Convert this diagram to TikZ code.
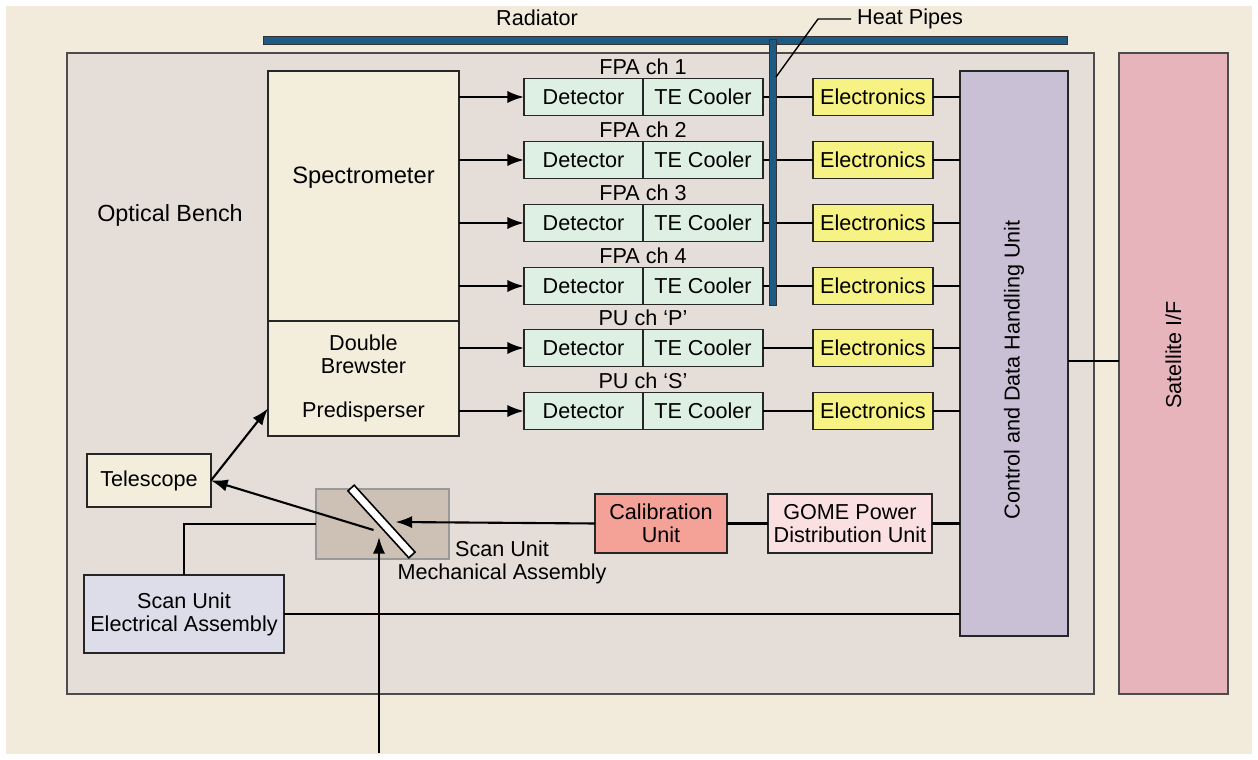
\documentclass[tikz,border=0pt]{standalone}
\usepackage{fontspec}
\setmainfont{Liberation Sans}
\usepackage{xcolor}
\usepackage{tikz}
\usetikzlibrary{positioning, arrows.meta, calc}
\definecolor{pagecream}{HTML}{F2EBDC}
\definecolor{benchgrey}{HTML}{E5DED8}
\definecolor{boxcream}{HTML}{F3EDDC}
\definecolor{detmint}{HTML}{DDF0E3}
\definecolor{eleyellow}{HTML}{F6F283}
\definecolor{cdhulilac}{HTML}{C9C0D6}
\definecolor{satpink}{HTML}{E8B4BC}
\definecolor{calsalmon}{HTML}{F4A197}
\definecolor{gomepink}{HTML}{FBE0E2}
\definecolor{sueablue}{HTML}{DDDCE9}
\definecolor{mechtan}{HTML}{CDC1B5}
\definecolor{radblue}{HTML}{1E5B84}
\tikzset{
  unit/.style={draw=black!85, line width=1.1pt, outer sep=0pt, inner sep=1pt, align=center},
  pipebar/.style={draw=black!80, fill=radblue, line width=0.4pt, inner sep=0pt, outer sep=0pt},
  wire/.style={line width=1.2pt, draw=black},
  beam/.style={wire, -{Latex[length=9.5pt, width=7pt]}},
}

\begin{document}
\begin{tikzpicture}[x=0.02cm, y=-0.02cm, font=\fontsize{12.3}{13}\selectfont]
    \fill[white] (0,0) rectangle (1258,760);
    \useasboundingbox (0,0) rectangle (1258,760);
    \fill[pagecream] (6,6) rectangle (1252,754);
    % bench and satellite side
    \node[unit, fill=benchgrey, draw=black!70, line width=1.4pt, anchor=north west,
          minimum width=20.54cm, minimum height=12.82cm] (bench) at (67,53) {};
    \node at (170,215) {\fontsize{13.3}{15}\selectfont Optical Bench};
    \node[unit, fill=satpink, draw=black!70, line width=1.4pt, anchor=north west,
          minimum width=2.18cm, minimum height=12.82cm] (sat) at (1119,53) {};
    \node[rotate=90] at ($(sat.center)+(0,-18.5)$) {Satellite I/F};
    \node[unit, fill=cdhulilac, anchor=north west, minimum width=2.16cm, minimum height=11.3cm] (cdhu) at (960,71) {};
    \node[rotate=90] at ($(cdhu.center)+(0,16.5)$) {Control and Data Handling Unit};
    \coordinate (cdhuout) at ([yshift=-4.4pt]cdhu.east);
    \draw[wire] (cdhuout) -- (cdhuout -| sat.west);

    % radiator on top
    \node[pipebar, anchor=north west, minimum width=16.08cm, minimum height=0.16cm] (rad) at (263,36) {};
    \node at (537,18) {Radiator};
    \node[anchor=west] (hp) at (851,19) {Heat Pipes};

    % spectrometer block
    \node[unit, fill=boxcream, anchor=north west, minimum width=3.82cm, minimum height=5cm,
          label={[yshift=0.36cm, font=\fontsize{13.5}{15}\selectfont]center:Spectrometer}] (spec) at (268,71) {};
    \node[unit, fill=boxcream, below=0pt of spec, minimum width=3.82cm, minimum height=2.3cm] (predisp)
          {Double\\Brewster\\[12.5pt]Predisperser};

    % the six channels
    \foreach \y/\chan [count=\i] in {97/FPA ch 1, 160/FPA ch 2, 223/FPA ch 3, 286/FPA ch 4, 348/PU ch `P', 411/PU ch `S'}{
      \node[unit, fill=detmint, anchor=west, minimum width=2.38cm, minimum height=0.74cm] (det\i) at (524,\y) {Detector};
      \node[unit, fill=detmint, right=0pt of det\i, minimum width=2.4cm, minimum height=0.74cm] (cool\i) {TE Cooler};
      \node[unit, fill=eleyellow, right=1cm of cool\i, minimum width=2.4cm, minimum height=0.74cm] (ele\i) {Electronics};
      \node[above=1.5pt of det\i.north east, inner sep=0.5pt] {\chan};
      \draw[beam] (spec.east |- det\i.west) -- (det\i.west);
      \draw[wire] (cool\i) -- (ele\i);
      \draw[wire] (ele\i.east) -- (ele\i.east -| cdhu.west);
    }
    \node[pipebar, anchor=north, minimum width=0.14cm, minimum height=5.32cm] (pipe) at (772.5,39) {};
    \draw[line width=0.8pt] (hp.west) -- ++(-33,0) -- ($(pipe.north east)+(0,38)$);

    % scan unit, telescope and calibration
    \node[unit, fill=boxcream, anchor=north west, minimum width=2.48cm, minimum height=1.06cm] (tel) at (87,454) {Telescope};
    \draw[beam] (tel.east) -- ($(predisp.west)+(0,30)$);
    \node[unit, fill=mechtan, draw=black!40, line width=0.8pt, anchor=north west,
          minimum width=2.66cm, minimum height=1.4cm] (mech) at (316,489) {};
    \node[align=center] at (502,562) {Scan Unit\\Mechanical Assembly};
    \node[draw=black, fill=white, line width=0.9pt, inner sep=0pt, minimum width=1.81cm,
          minimum height=0.17cm, rotate=-47.7] (mirror) at (381.5,521.5) {};
    \node[unit, fill=calsalmon, anchor=north west, minimum width=2.64cm, minimum height=1.18cm] (cal) at (595,494) {Calibration\\Unit};
    \node[unit, fill=gomepink, right=0.82cm of cal, minimum width=3.28cm, minimum height=1.18cm] (gome) {GOME Power\\Distribution Unit};
    \node[unit, fill=sueablue, anchor=north west, minimum width=4cm, minimum height=1.56cm] (suea) at (84,575) {Scan Unit\\Electrical Assembly};
    \coordinate (inlet) at (379,753);

    \draw[wire] (cal.east) -- (gome.west);
    \draw[wire] (gome.east) -- (gome.east -| cdhu.west);
    \draw[beam] (cal.west) -- ($(mirror.center)+(14,0.5)$);
    \draw[beam] ($(mirror.center)+(-8,8.5)$) -- (tel.east);
    \draw[beam] (inlet) -- ++(0,-216);
    \draw[wire] (suea.north) |- (mech.west);
    \draw[wire] (suea.east) -- (suea.east -| cdhu.west);
  \end{tikzpicture}
\end{document}
